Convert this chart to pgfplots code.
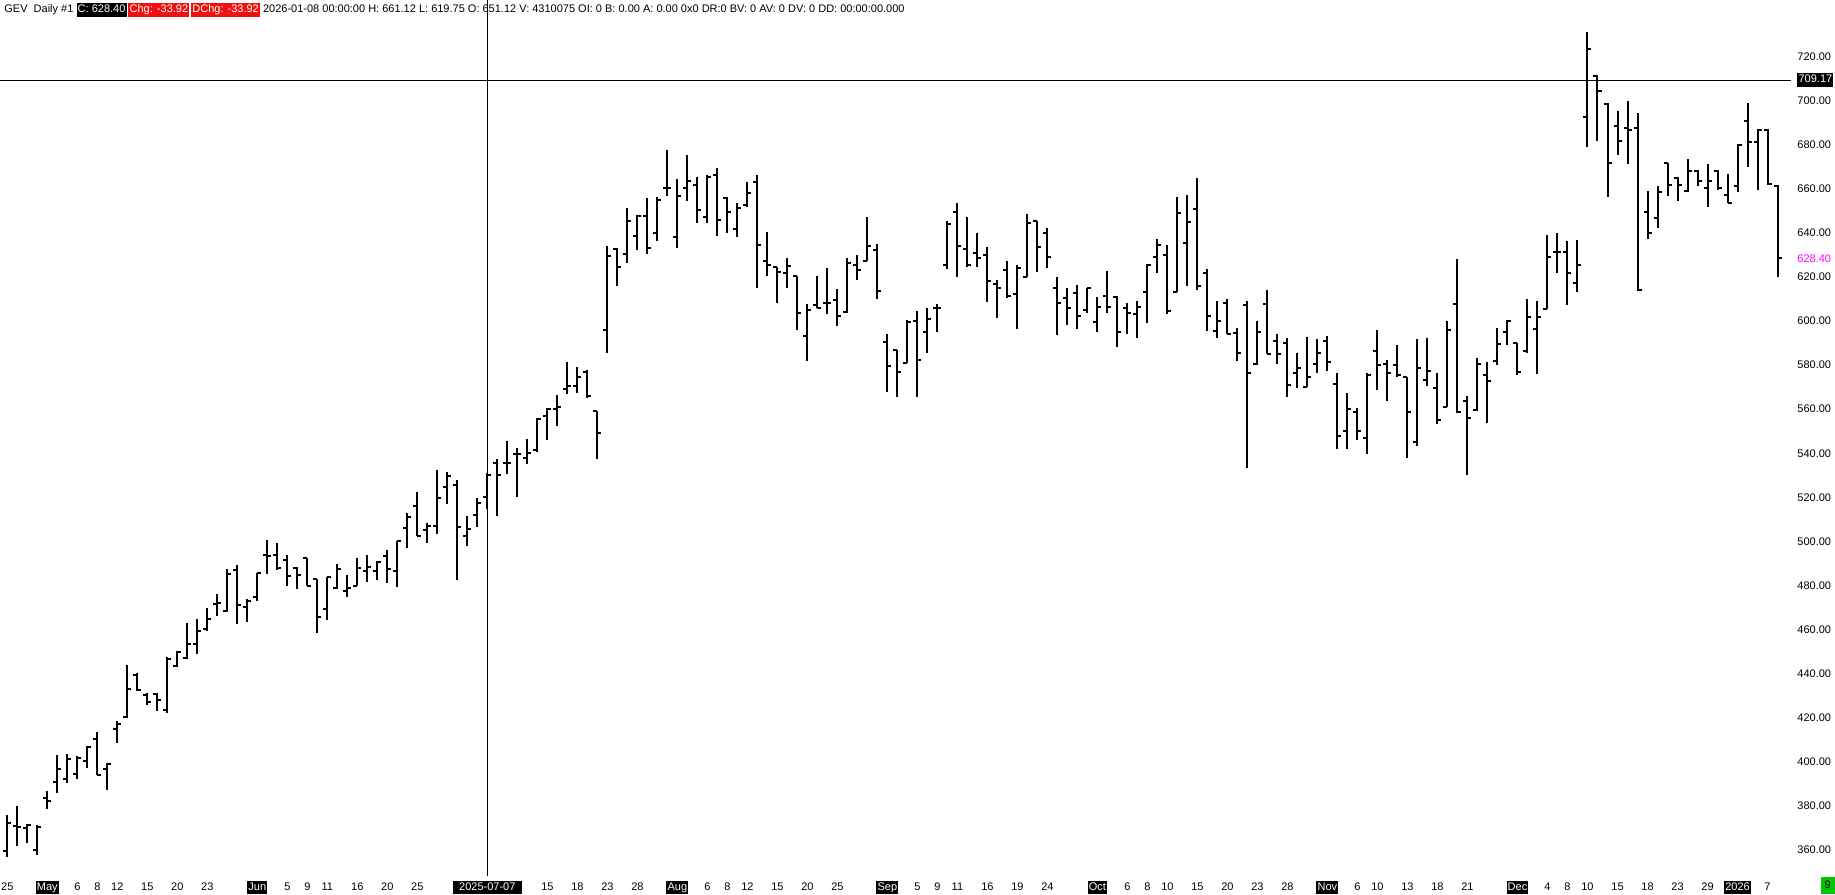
\documentclass[border=0pt]{standalone}
\usepackage{pgfplots}
\pgfplotsset{compat=1.18}
\usepackage{pgfplotstable}
\usepackage{fontspec}
\setmainfont{Liberation Sans}
\definecolor{hdrred}{RGB}{240,16,16}
\definecolor{lastpx}{RGB}{255,0,255}
\definecolor{tagreen}{RGB}{0,200,0}
\newcommand{\tagbox}[2]{{\setlength{\fboxsep}{0.6pt}\colorbox{#1}{\rule[-1.6pt]{0pt}{5.7pt}\textcolor{white}{#2}}}}
\newcommand{\lbl}[1]{\tagbox{black}{#1}}

% daily bars, idx = trading day from 2025-04-25
\pgfplotstableread{
x o h l c
0 359.7 376.0 357.1 372.5
1 371.0 380.1 361.7 370.4
2 369.9 371.8 363.4 371.5
3 360.1 371.5 357.9 370.3
4 383.6 387.0 378.6 382.4
5 391.1 403.1 385.8 396.7
6 392.2 403.5 390.4 401.3
7 394.6 402.5 392.2 401.6
8 400.4 407.3 397.2 407.0
9 410.3 413.7 394.0 394.0
10 396.7 399.4 387.4 399.1
11 414.9 418.6 408.8 417.1
12 420.2 444.0 419.9 433.2
13 439.5 440.3 432.2 432.7
14 430.4 431.2 425.9 427.0
15 430.9 431.2 423.3 428.2
16 423.6 447.4 422.1 446.9
17 443.6 450.4 443.0 450.1
18 447.1 462.9 446.6 453.3
19 453.3 464.8 448.9 459.2
20 460.2 469.7 459.5 464.8
21 471.7 476.2 466.0 472.0
22 468.5 487.4 468.2 485.1
23 487.1 489.2 462.5 471.2
24 470.5 473.8 463.7 473.2
25 475.0 485.9 473.1 485.6
26 493.9 500.7 485.1 493.2
27 493.9 499.2 487.1 487.9
28 491.6 493.9 479.6 484.4
29 488.2 488.3 478.3 484.8
30 492.3 492.4 479.9 479.9
31 482.9 482.9 458.7 465.6
32 469.3 484.1 464.4 483.8
33 479.1 489.8 478.3 487.7
34 477.6 484.8 474.7 478.8
35 479.9 492.4 479.9 488.2
36 486.7 493.9 481.8 488.6
37 486.8 491.2 482.6 490.9
38 493.6 496.2 481.1 487.4
39 486.8 500.3 479.3 500.0
40 506.3 512.8 497.0 511.0
41 516.3 522.6 502.5 502.5
42 505.3 508.6 499.2 507.1
43 507.1 532.2 503.4 519.6
44 524.5 531.7 517.1 529.5
45 525.5 528.0 482.6 506.5
46 502.7 511.6 498.0 505.7
47 511.8 519.7 506.5 517.4
48 520.4 531.0 514.7 530.2
49 535.5 537.3 511.6 530.2
50 535.8 545.7 530.5 535.8
51 539.8 542.3 520.4 539.8
52 537.8 546.4 535.1 540.1
53 541.6 555.9 540.4 555.5
54 557.0 560.5 546.1 560.0
55 560.0 566.5 552.2 561.2
56 569.1 581.6 566.8 570.3
57 570.7 579.1 567.3 574.8
58 576.7 577.9 565.0 566.1
59 559.3 559.3 537.3 549.4
60 596.0 634.1 585.4 629.3
61 632.6 633.0 615.9 624.4
62 630.3 651.2 626.2 645.4
63 638.6 648.2 632.0 647.7
64 647.4 655.7 630.3 633.0
65 640.1 656.0 636.1 655.0
66 660.5 677.6 656.5 660.5
67 638.3 664.3 633.0 656.9
68 660.5 675.4 654.2 663.3
69 661.5 665.2 644.4 650.1
70 647.1 666.3 644.4 665.5
71 666.3 669.3 638.6 645.9
72 655.7 656.2 639.8 649.2
73 641.7 653.4 637.9 651.2
74 652.7 663.0 651.6 658.0
75 663.0 666.3 614.9 634.5
76 627.4 640.3 620.6 625.5
77 624.4 624.4 608.1 622.0
78 621.7 628.5 614.9 625.0
79 620.6 620.6 596.0 603.6
80 593.0 607.8 581.9 605.1
81 607.3 620.2 605.8 605.8
82 608.1 624.0 603.1 608.1
83 609.3 614.4 597.5 602.3
84 604.2 628.5 603.6 626.2
85 625.5 630.0 618.4 623.2
86 627.0 647.1 627.0 633.8
87 632.0 634.8 609.9 613.4
88 590.6 594.0 568.0 579.8
89 586.9 586.9 565.7 577.0
90 580.8 600.5 580.8 599.7
91 600.0 604.6 565.7 582.5
92 594.9 605.8 585.4 600.8
93 606.1 607.6 595.2 606.1
94 625.4 645.4 623.6 643.9
95 649.3 653.4 620.1 634.2
96 632.7 647.0 624.7 625.4
97 630.7 639.8 624.7 628.7
98 629.7 633.4 608.8 618.3
99 616.6 618.6 601.5 615.1
100 623.2 627.2 610.6 611.1
101 612.1 625.4 596.4 624.2
102 620.1 648.4 620.1 644.6
103 645.4 645.4 622.4 633.7
104 640.1 642.0 624.2 629.2
105 615.1 619.8 593.7 608.0
106 610.3 615.1 598.2 605.8
107 612.9 616.3 596.4 602.3
108 605.0 615.1 603.5 615.1
109 599.7 610.8 595.2 606.5
110 611.4 622.7 603.8 606.5
111 610.8 611.4 588.4 595.2
112 606.1 608.3 594.0 603.5
113 603.2 609.1 592.2 606.5
114 613.3 625.9 599.3 625.4
115 629.2 637.1 621.6 634.6
116 630.1 634.3 603.2 604.4
117 613.3 656.1 613.3 648.8
118 635.2 657.2 616.0 644.8
119 650.7 664.7 614.1 616.0
120 621.9 623.5 595.6 602.3
121 595.6 609.1 592.2 600.2
122 608.3 609.8 594.1 594.1
123 594.4 596.7 582.0 585.7
124 607.3 609.2 533.2 576.3
125 580.4 600.0 580.1 595.2
126 607.6 614.1 584.9 584.9
127 591.1 594.0 580.4 584.9
128 590.2 592.2 565.4 571.0
129 576.6 585.7 569.5 578.5
130 570.2 592.9 569.9 574.5
131 580.4 591.7 576.6 585.4
132 590.7 593.3 577.1 581.6
133 571.3 576.3 541.9 547.9
134 550.3 567.3 541.9 560.0
135 558.5 560.5 546.1 550.3
136 547.1 576.6 539.7 575.6
137 586.6 595.7 568.5 580.1
138 580.6 582.4 563.5 576.3
139 580.1 589.2 574.8 575.6
140 574.5 574.5 537.8 558.5
141 545.3 591.8 543.1 578.6
142 573.3 592.5 570.3 577.1
143 569.5 576.6 553.2 555.2
144 561.2 600.1 560.9 595.7
145 607.6 628.2 558.2 558.5
146 563.5 566.0 530.2 555.9
147 559.7 583.1 559.4 580.6
148 575.3 581.6 553.6 573.0
149 581.9 596.7 580.1 589.6
150 595.2 600.5 589.2 600.2
151 590.2 590.2 575.6 576.8
152 586.5 609.9 585.7 602.0
153 596.3 609.1 575.9 602.0
154 605.3 639.1 605.3 629.2
155 631.5 639.8 621.7 631.5
156 631.5 636.3 607.3 621.9
157 617.4 636.8 613.3 625.4
158 692.3 731.0 679.1 723.4
159 711.2 711.6 681.4 704.5
160 698.5 698.8 656.4 671.8
161 688.5 695.4 675.3 681.8
162 687.4 699.8 671.2 686.4
163 687.4 694.2 613.4 614.1
164 649.6 659.0 637.1 639.8
165 646.9 661.0 642.1 658.7
166 671.6 671.6 656.7 661.7
167 665.0 665.5 654.2 661.7
168 659.1 673.4 658.7 667.8
169 667.8 668.5 661.0 663.5
170 660.2 671.2 651.9 663.7
171 667.8 668.5 659.4 660.2
172 657.2 666.7 653.4 653.7
173 661.4 680.3 658.7 679.9
174 690.9 698.8 669.6 681.0
175 681.0 687.0 659.2 686.6
176 686.6 687.0 661.7 662.3
177 661.1 661.7 619.8 628.4
}\ohlc

\begin{document}
\fontsize{5.5pt}{6.6pt}\selectfont
\begin{tikzpicture}
\path[use as bounding box] (0,0) rectangle (917.5pt,447pt);
\begin{axis}[
    at={(0pt,9pt)}, anchor=south west, scale only axis,
    width=895.5pt, height=429pt,
    xmin=-0.73, xmax=178.35, ymin=348.3, ymax=737.4,
    clip=false,
    axis x line=bottom, axis y line=right,
    axis line style={draw=none},
    major tick length=0pt,
    tick label style={font=\fontsize{5.5pt}{6.6pt}\selectfont},
    ytick={360,380,...,720},
    yticklabel style={anchor=west, xshift=3pt, inner sep=0pt,
        /pgf/number format/fixed, /pgf/number format/fixed zerofill,
        /pgf/number format/precision=2, /pgf/number format/1000 sep={},
        /pgf/number format/assume math mode=true},
    extra y ticks={628.4,709.17},
    extra y tick labels={\textcolor{lastpx}{628.40},\lbl{709.17}},
    xtick={0,4,7,9,11,14,17,20,25,28,30,32,35,38,41,48,54,57,60,63,67,70,72,74,77,80,83,88,91,93,95,98,101,104,109,112,114,116,119,122,125,128,132,135,137,140,143,146,151,154,156,158,161,164,167,170,173,176},
    xticklabels={25,\lbl{May},6,8,12,15,20,23,\lbl{Jun},5,9,11,16,20,25,\lbl{\hspace{2.5pt}2025-07-07\hspace{2.5pt}},15,18,23,28,\lbl{Aug},6,8,12,15,20,25,\lbl{Sep},5,9,11,16,19,24,\lbl{Oct},6,8,10,15,20,23,28,\lbl{Nov},6,10,13,18,21,\lbl{Dec},4,8,10,15,18,23,29,\lbl{2026},7},
    xticklabel style={anchor=base, yshift=-7pt, inner sep=0pt},
]
% crosshair
\addplot[black, line width=0.5pt, forget plot] coordinates {(48,348.3) (48,745.6)};
\addplot[black, line width=0.5pt, forget plot] coordinates {(-0.73,709.17) (178.35,709.17)};
% high-low
\addplot[draw=none, mark=none, forget plot,
    error bars/.cd, y dir=minus, y explicit, error mark=none,
    error bar style={draw=black, line width=1pt}]
    table[x=x, y=h, y error minus expr=\thisrow{h}-\thisrow{l}] {\ohlc};
% open
\addplot[draw=none, mark=none, forget plot,
    error bars/.cd, x dir=minus, x fixed=0.4, error mark=none,
    error bar style={draw=black, line width=1pt}]
    table[x=x, y=o] {\ohlc};
% close
\addplot[draw=none, mark=none, forget plot,
    error bars/.cd, x dir=plus, x fixed=0.4, error mark=none,
    error bar style={draw=black, line width=1pt}]
    table[x=x, y=c] {\ohlc};
\end{axis}
\node[anchor=base west, inner sep=0pt] at (2pt,440.7pt) {GEV\ \ Daily \#1 \tagbox{black}{C: 628.40}\,\tagbox{hdrred}{Chg: -33.92}\,\tagbox{hdrred}{DChg: -33.92} 2026-01-08 00:00:00 H: 661.12 L: 619.75 O: 651.12 V: 4310075 OI: 0 B: 0.00 A: 0.00 0x0 DR:0 BV: 0 AV: 0 DV: 0 DD: 00:00:00.000};
\node[fill=tagreen, text=black, inner sep=0.8pt, minimum height=8.5pt, minimum width=7pt, anchor=south east] at (917.5pt,0pt) {9};
\end{tikzpicture}
\end{document}
